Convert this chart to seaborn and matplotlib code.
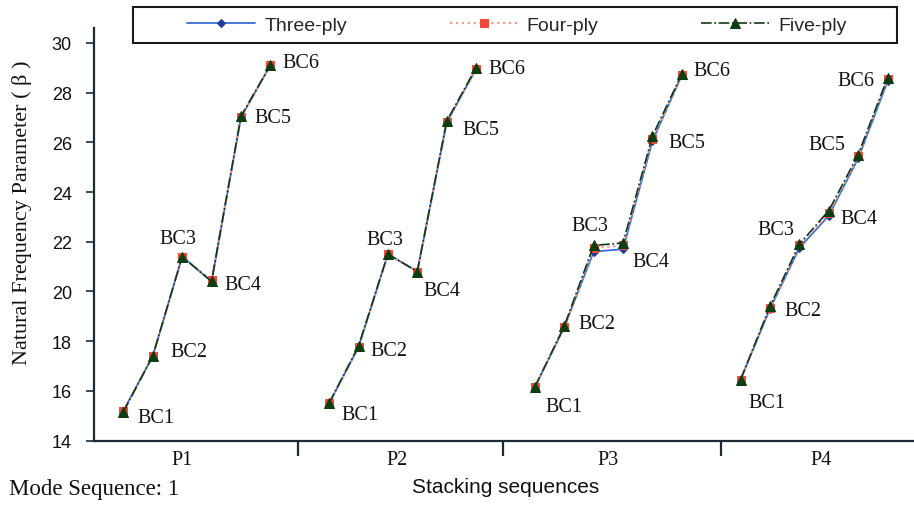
import matplotlib
matplotlib.use("Agg")
import matplotlib.pyplot as plt
from matplotlib.patches import Rectangle
import pandas as pd
import seaborn as sns

# stacking sequences and boundary conditions
groups = ["P1", "P2", "P3", "P4"]
conditions = ["BC1", "BC2", "BC3", "BC4", "BC5", "BC6"]
series_names = ["Three-ply", "Four-ply", "Five-ply"]

# natural frequency parameter (P1..P4, BC1..BC6 each)
three_ply = [15.20, 17.40, 21.40, 20.40, 27.00, 29.10,
             15.50, 17.75, 21.50, 20.80, 26.80, 28.95,
             16.15, 18.55, 21.60, 21.70, 26.05, 28.70,
             16.45, 19.30, 21.75, 23.05, 25.35, 28.45]
four_ply = [15.20, 17.40, 21.40, 20.45, 27.00, 29.10,
            15.50, 17.75, 21.50, 20.80, 26.80, 28.95,
            16.15, 18.55, 21.75, 21.85, 26.15, 28.70,
            16.45, 19.35, 21.85, 23.15, 25.45, 28.55]
five_ply = [15.15, 17.40, 21.40, 20.40, 27.05, 29.10,
            15.50, 17.80, 21.50, 20.80, 26.85, 29.00,
            16.15, 18.60, 21.85, 21.95, 26.25, 28.75,
            16.45, 19.40, 21.90, 23.25, 25.50, 28.60]

# where the BC labels sit relative to their marker (pixels)
label_offsets = [
    [(33, -6), (36, 5), (-4, 18), (31, -3), (32, -1), (31, 3)],
    [(31, -11), (30, -4), (-3, 15), (25, -19), (34, -8), (31, -1)],
    [(29, -19), (33, 3), (-4, 20), (28, -19), (34, -6), (30, 3)],
    [(26, -23), (33, -4), (-24, 15), (30, -8), (-31, 10), (-32, -3)],
]
separators = [6.95, 13.93, 21.33]
group_label_pos = [3.0, 10.3, 17.5, 24.75]

rows = []
for name, vals in zip(series_names, [three_ply, four_ply, five_ply]):
    for gi, g in enumerate(groups):
        for ci, c in enumerate(conditions):
            rows.append({"series": name, "group": g, "cond": c,
                         "pos": gi * 7 + 1 + ci, "value": vals[gi * 6 + ci]})
df = pd.DataFrame(rows)

sns.set_theme(style="white")
serif = ["Liberation Serif", "DejaVu Serif"]
sans = ["Liberation Sans", "DejaVu Sans"]
plt.rcParams["font.family"] = sans

fig = plt.figure(figsize=(9.14, 5.06), dpi=100)
ax = fig.add_axes([94 / 914, 1 - 441.5 / 506, 820 / 914, (441.5 - 29) / 506])

styles = {
    "Three-ply": dict(color="#3b6fd4", marker="D", markersize=4.5, markerfacecolor="#1f3c99",
                      markeredgecolor="#1f3c99", linestyle="-", linewidth=1.3),
    "Four-ply": dict(color="#f29a90", marker="s", markersize=5.5, markerfacecolor="#ee4a3c",
                     markeredgecolor="#ee4a3c", linestyle=":", linewidth=1.6),
    "Five-ply": dict(color="#16361a", marker="^", markersize=7, markerfacecolor="#0d3d12",
                     markeredgecolor="#0d3d12", linestyle="-.", linewidth=1.2),
}
for name in series_names:
    sub = df[df["series"] == name]
    sns.lineplot(data=sub, x="pos", y="value", units="group", estimator=None,
                 ax=ax, label=name, legend=False, **styles[name])

# BC labels
five = df[df["series"] == "Five-ply"].reset_index(drop=True)
for gi in range(len(groups)):
    for ci in range(len(conditions)):
        r = five.iloc[gi * 6 + ci]
        dx, dy = label_offsets[gi][ci]
        ax.annotate(r["cond"], (r["pos"], r["value"]), xytext=(dx, dy),
                    textcoords="offset pixels", ha="center", va="center",
                    fontsize=14.5, family=serif, color="#111111")

ax.set_xlim(0, 27.9)
ax.set_ylim(14, 30.6)
ax.set_yticks(range(14, 31, 2))
ax.set_xticks(group_label_pos)
ax.set_xticklabels(groups, family=serif, fontsize=14.5)
ax.set_xticks(separators, minor=True)
ax.tick_params(axis="x", which="major", length=0, pad=7, colors="#111111")
ax.tick_params(axis="x", which="minor", length=11, width=1.6, color="#1c2b33", bottom=True)
ax.tick_params(axis="y", length=6, width=1.2, color="#1c2b33", pad=10, labelsize=13,
               left=True, labelcolor="#111111")
ax.set_xlabel("")
ax.set_ylabel("")
for s in ["top", "right"]:
    ax.spines[s].set_visible(False)
for s in ["left", "bottom"]:
    ax.spines[s].set_color("#1c2b33")
    ax.spines[s].set_linewidth(1.6)

fig.text(22 / 914, 1 - 213 / 506, "Natural Frequency Parameter ( \u03b2 )", rotation=90,
         ha="center", va="center", fontsize=16, family=serif, color="#111111")
fig.text(506 / 914, 1 - 488 / 506, "Stacking sequences", ha="center", va="center",
         fontsize=15, color="#111111")
fig.text(9 / 914, 1 - 490 / 506, "Mode Sequence: 1", ha="left", va="center",
         fontsize=16.5, family=serif, color="#111111")

# legend with its own box across the top
handles, labels = ax.get_legend_handles_labels()
uniq = dict(zip(labels, handles))
fig.patches.append(Rectangle((133 / 914, 1 - 44 / 506), 764 / 914, 36 / 506,
                             transform=fig.transFigure, facecolor="white",
                             edgecolor="#1a1a1a", linewidth=1.5, zorder=5))
leg = fig.legend([uniq[n] for n in series_names], series_names, loc="center",
                 bbox_to_anchor=(517 / 914, 1 - 26 / 506), ncol=3, frameon=False,
                 fontsize=14, handlelength=3.5, handletextpad=0.45, columnspacing=5.3)
leg.set_zorder(6)

fig.savefig("out.png", dpi=100, facecolor="white")
